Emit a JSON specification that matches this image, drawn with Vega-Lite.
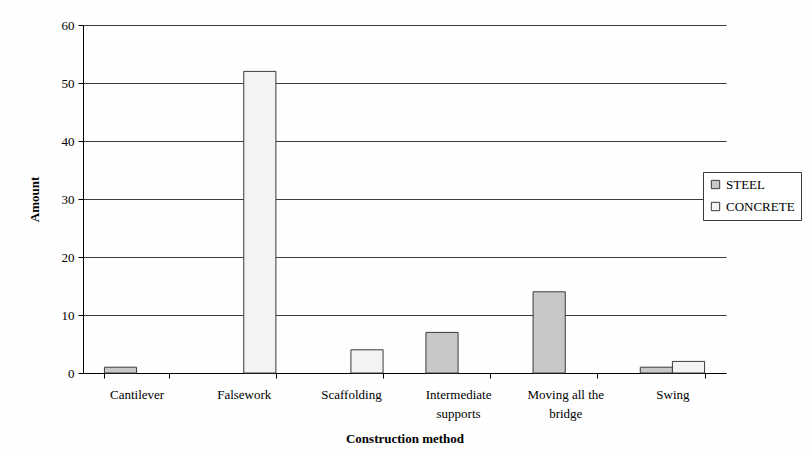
{
  "$schema": "https://vega.github.io/schema/vega-lite/v6.json",
  "width": 643,
  "height": 348,
  "autosize": {"type": "none"},
  "padding": {"left": 83, "top": 25, "right": 85, "bottom": 78},
  "background": "#fefefe",
  "data": {
    "values": [
      {"method": "Cantilever", "material": "STEEL", "amount": 1},
      {"method": "Falsework", "material": "CONCRETE", "amount": 52},
      {"method": "Scaffolding", "material": "CONCRETE", "amount": 4},
      {"method": "Intermediate supports", "material": "STEEL", "amount": 7},
      {"method": "Moving all the bridge", "material": "STEEL", "amount": 14},
      {"method": "Swing", "material": "STEEL", "amount": 1},
      {"method": "Swing", "material": "CONCRETE", "amount": 2}
    ]
  },
  "mark": {"type": "bar", "stroke": "#3a3a3a", "strokeWidth": 1},
  "encoding": {
    "x": {
      "field": "method",
      "type": "nominal",
      "sort": ["Cantilever", "Falsework", "Scaffolding", "Intermediate supports", "Moving all the bridge", "Swing"],
      "scale": {"paddingInner": 0.4, "paddingOuter": 0.2},
      "axis": {
        "title": "Construction method",
        "titleFontSize": 13,
        "titleFontWeight": "bold",
        "titleColor": "#000000",
        "titlePadding": 12,
        "labelFontSize": 13,
        "labelColor": "#000000",
        "labelAngle": 0,
        "labelPadding": 10,
        "labelLineHeight": 19,
        "labelExpr": "datum.label == 'Intermediate supports' ? ['Intermediate', 'supports'] : datum.label == 'Moving all the bridge' ? ['Moving all the', 'bridge'] : datum.label",
        "tickBand": "extent",
        "tickSize": 5,
        "tickColor": "#000000",
        "domainColor": "#000000",
        "grid": false
      }
    },
    "xOffset": {
      "field": "material",
      "type": "nominal",
      "scale": {"domain": ["STEEL", "CONCRETE"], "paddingInner": 0, "paddingOuter": 0}
    },
    "y": {
      "field": "amount",
      "type": "quantitative",
      "scale": {"domain": [0, 60], "nice": false},
      "axis": {
        "title": "Amount",
        "titleFontSize": 13,
        "titleFontWeight": "bold",
        "titleColor": "#000000",
        "titlePadding": 20,
        "values": [0, 10, 20, 30, 40, 50, 60],
        "labelFontSize": 13,
        "labelColor": "#000000",
        "labelPadding": 4,
        "tickSize": 5,
        "tickColor": "#000000",
        "domainColor": "#000000",
        "grid": true,
        "gridColor": "#3c3c3c",
        "gridWidth": 1
      }
    },
    "color": {
      "field": "material",
      "type": "nominal",
      "scale": {"domain": ["STEEL", "CONCRETE"], "range": ["#c8c8c8", "#f3f3f3"]},
      "legend": {
        "title": null,
        "orient": "none",
        "legendX": 620,
        "legendY": 147,
        "symbolType": "square",
        "symbolSize": 70,
        "symbolStrokeColor": "#3a3a3a",
        "symbolStrokeWidth": 1,
        "labelFontSize": 13,
        "labelColor": "#000000",
        "rowPadding": 8,
        "padding": 6,
        "strokeColor": "#3a3a3a",
        "fillColor": "#ffffff"
      }
    }
  },
  "config": {
    "view": {"stroke": null},
    "font": "Liberation Serif, DejaVu Serif, serif",
    "axis": {"labelFont": "Liberation Serif, DejaVu Serif, serif", "titleFont": "Liberation Serif, DejaVu Serif, serif"},
    "legend": {"labelFont": "Liberation Serif, DejaVu Serif, serif"}
  }
}
